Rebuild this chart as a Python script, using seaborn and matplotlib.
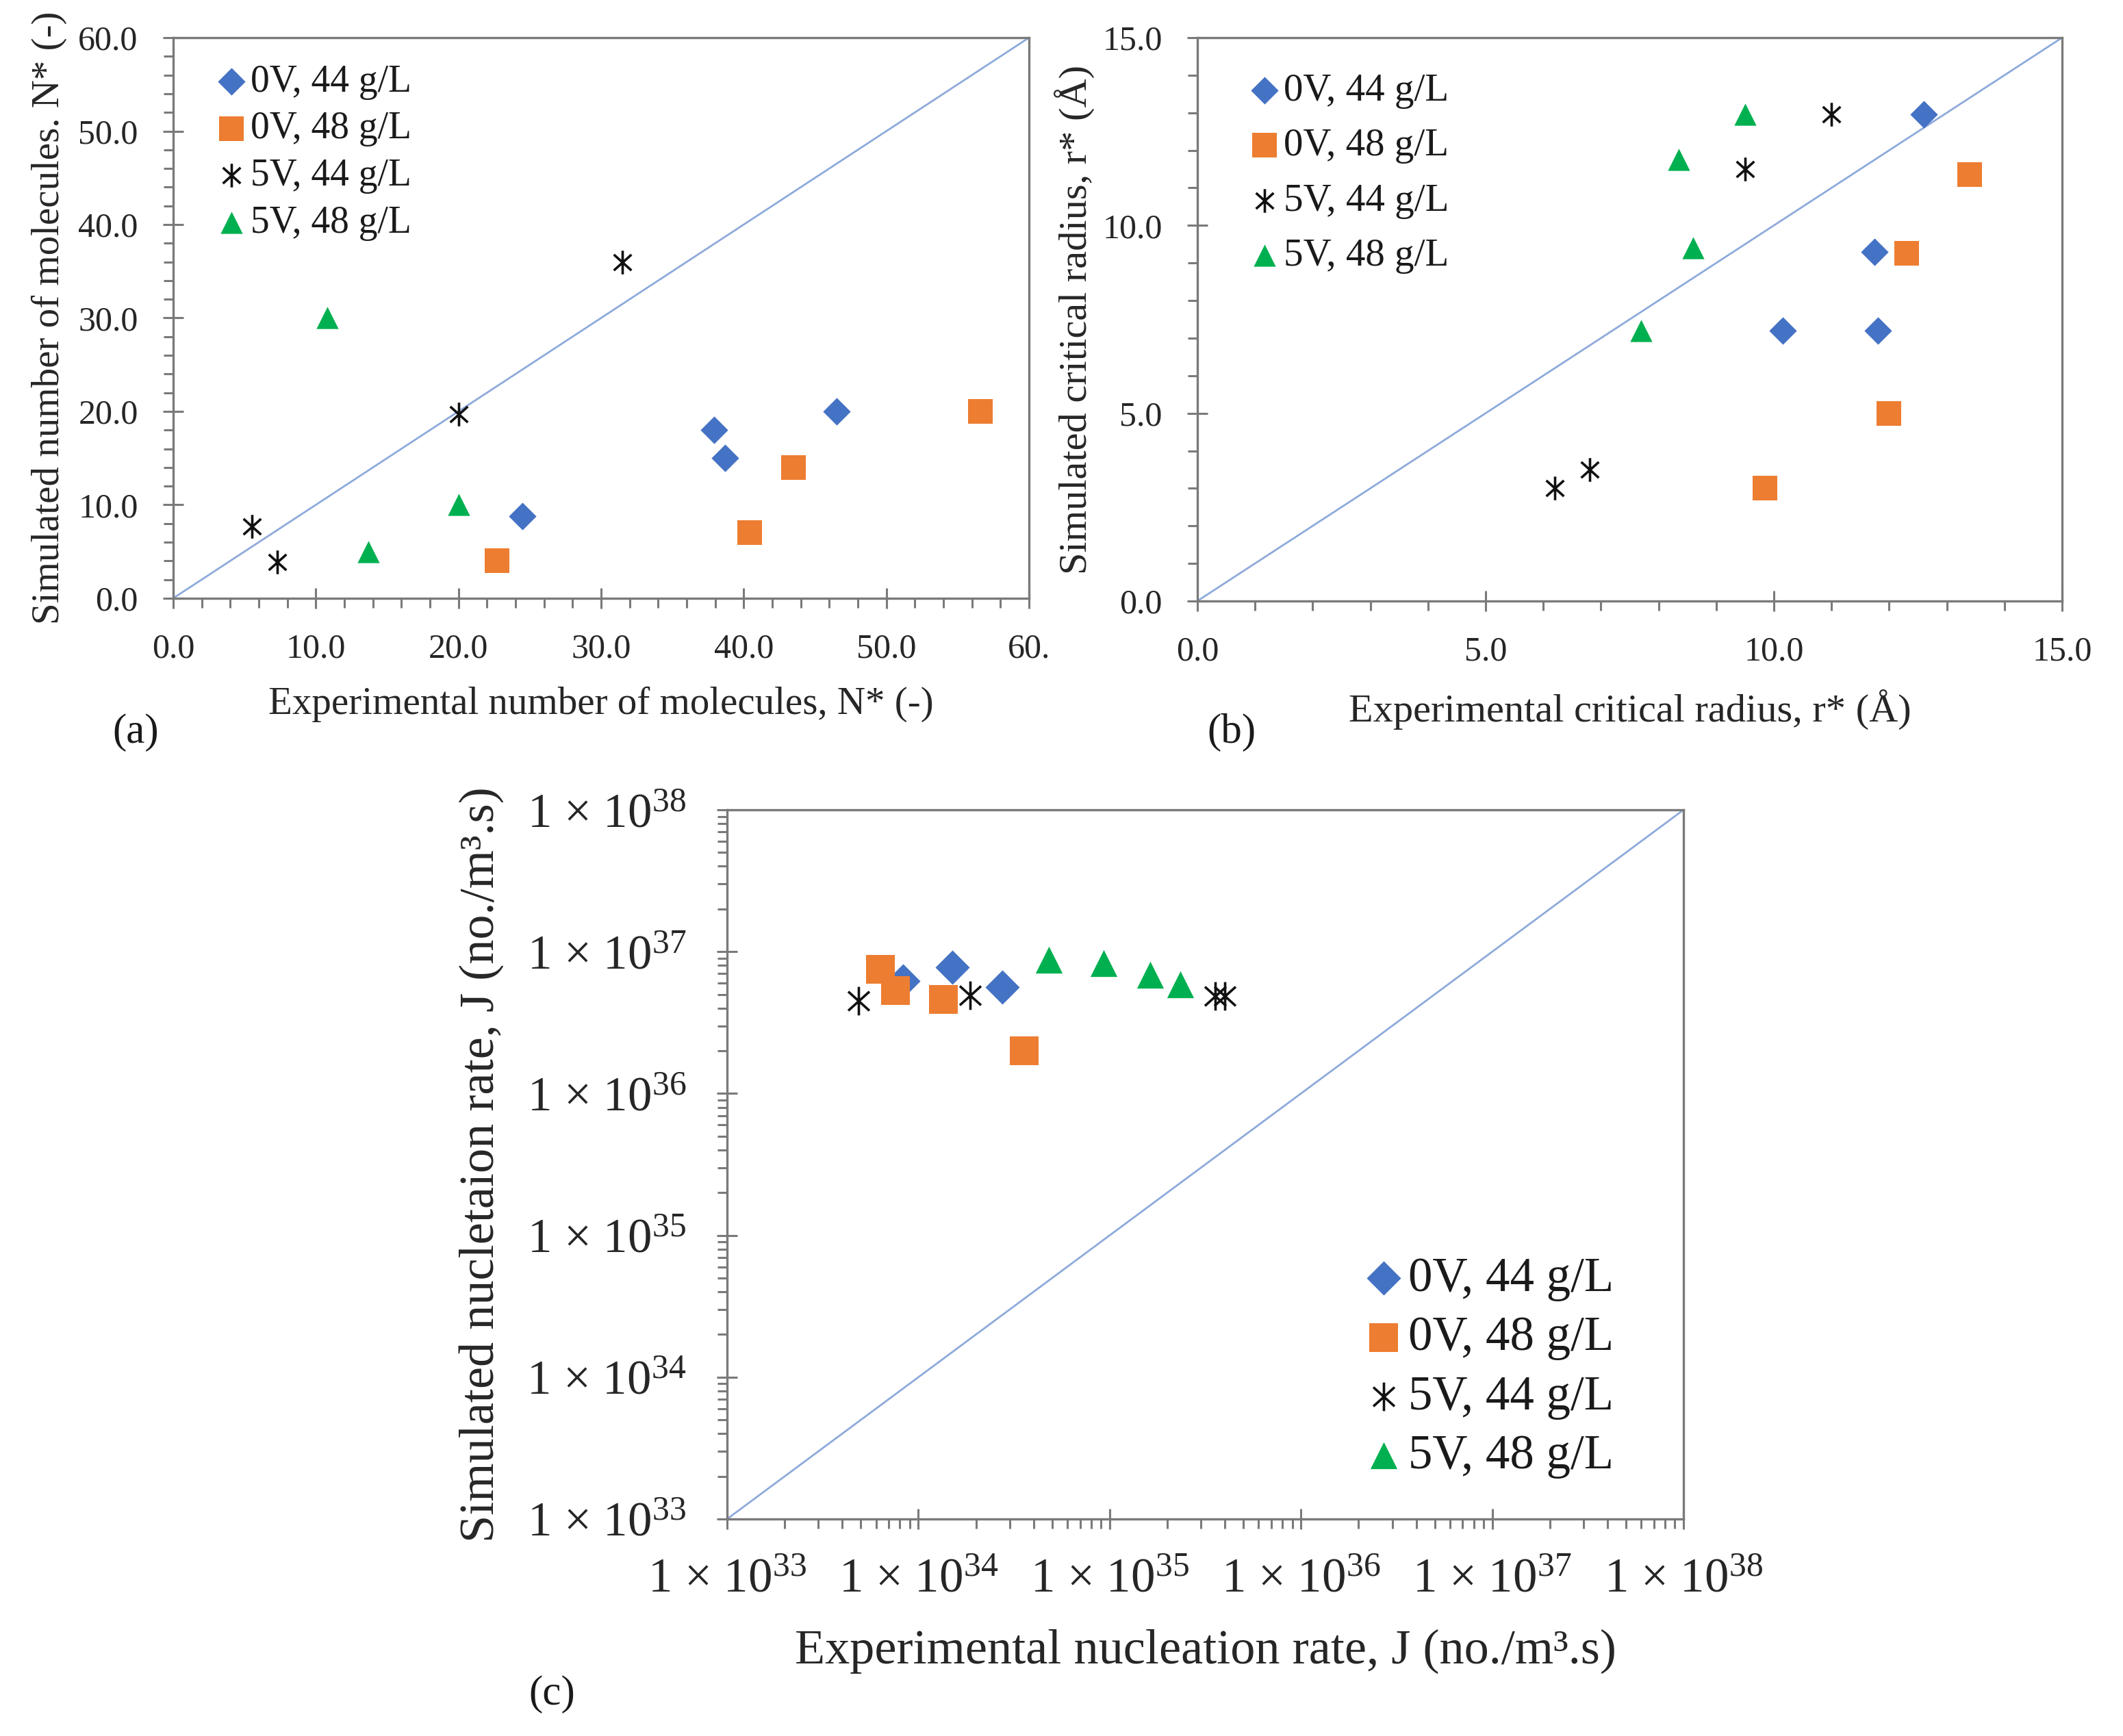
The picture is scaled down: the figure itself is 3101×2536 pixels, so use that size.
import numpy as np
import pandas as pd
import seaborn as sns
import matplotlib.pyplot as plt
from matplotlib.path import Path
from matplotlib.ticker import MultipleLocator, LogLocator, NullFormatter, FuncFormatter, FixedFormatter, FixedLocator

sns.set_style("white")
plt.rcParams['font.family'] = ['Liberation Serif', 'DejaVu Serif']
plt.rcParams['mathtext.fontset'] = 'custom'
plt.rcParams['mathtext.rm'] = 'Liberation Serif'
plt.rcParams['mathtext.default'] = 'regular'
plt.rcParams['text.color'] = '#1a1a1a'

series = ['0V, 44 g/L', '0V, 48 g/L', '5V, 44 g/L', '5V, 48 g/L']
colors = ['#4472C4', '#ED7D31', '#111111', '#00B050']

# Excel-style asterisk: a vertical bar plus an X
ang = np.deg2rad([90, 42, -42])
star_verts = []
for t in ang:
    star_verts += [(np.cos(t), np.sin(t)), (-np.cos(t), -np.sin(t))]
star = Path(star_verts, [Path.MOVETO, Path.LINETO] * 3)
markers = ['D', 's', star, '^']

# (a) critical number of molecules
a_x_0v44 = [24.5, 37.9, 38.7, 46.5]
a_y_0v44 = [8.8, 18.0, 15.0, 20.0]
a_x_0v48 = [22.7, 40.4, 43.5, 56.6]
a_y_0v48 = [4.0, 7.0, 14.0, 20.0]
a_x_5v44 = [5.5, 7.3, 20.0, 31.5]
a_y_5v44 = [7.7, 3.9, 19.7, 36.0]
a_x_5v48 = [10.8, 13.7, 20.0]
a_y_5v48 = [30.0, 5.0, 10.0]
a_xticklabels = ['0.0', '10.0', '20.0', '30.0', '40.0', '50.0', '60.']

# (b) critical radius (Angstrom)
b_x_0v44 = [12.6, 11.75, 10.15, 11.8]
b_y_0v44 = [12.95, 9.3, 7.2, 7.2]
b_x_0v48 = [13.4, 12.3, 12.0, 9.85]
b_y_0v48 = [11.35, 9.25, 5.0, 3.0]
b_x_5v44 = [11.0, 9.5, 6.2, 6.8]
b_y_5v44 = [12.95, 11.5, 3.0, 3.5]
b_x_5v48 = [9.5, 8.35, 8.6, 7.7]
b_y_5v48 = [12.95, 11.75, 9.4, 7.2]

# (c) nucleation rate (no./m3.s)
c_x_0v44 = [8.3e33, 1.5e34, 2.75e34]
c_y_0v44 = [6.2e36, 7.8e36, 5.65e36]
c_x_0v48 = [6.35e33, 7.6e33, 1.35e34, 3.56e34]
c_y_0v48 = [7.5e36, 5.3e36, 4.6e36, 2.0e36]
c_x_5v44 = [4.85e33, 1.86e34, 3.55e35, 4.0e35]
c_y_5v44 = [4.5e36, 4.9e36, 4.85e36, 4.85e36]
c_x_5v48 = [4.8e34, 9.3e34, 1.63e35, 2.34e35]
c_y_5v48 = [8.8e36, 8.3e36, 6.9e36, 5.9e36]

spine_col = '#7a7a7a'
line_col = '#8EAADB'

fig = plt.figure(figsize=(31.01, 25.36), dpi=100)
ax_a = fig.add_axes([0.0816, 0.6554, 0.4031, 0.3229])
ax_b = fig.add_axes([0.5640, 0.6538, 0.4073, 0.3245])
ax_c = fig.add_axes([0.3425, 0.1250, 0.4505, 0.4085])


def draw(ax, xs, ys, sizes):
    for lab, x, y, c, m, s in zip(series, xs, ys, colors, markers, sizes):
        df = pd.DataFrame({'x': x, 'y': y})
        if m is star:
            sns.scatterplot(data=df, x='x', y='y', ax=ax, marker=m, s=s,
                            color=c, edgecolor=c, linewidth=2.6, label=lab, zorder=3)
        else:
            sns.scatterplot(data=df, x='x', y='y', ax=ax, marker=m, s=s,
                            color=c, linewidth=0, label=lab, zorder=3)


def frame(ax):
    for sp in ax.spines.values():
        sp.set_color(spine_col)
        sp.set_linewidth(2.4)
    ax.tick_params(which='major', direction='inout', length=22, width=2.2, color=spine_col)
    ax.tick_params(which='minor', direction='out', length=10, width=2.2, color=spine_col)
    ax.tick_params(which='both', bottom=True, left=True, top=False, right=False)


# ---- (a)
draw(ax_a, [a_x_0v44, a_x_0v48, a_x_5v44, a_x_5v48],
     [a_y_0v44, a_y_0v48, a_y_5v44, a_y_5v48], [420, 650, 620, 540])
ax_a.plot([0, 60], [0, 60], color=line_col, lw=2.0, zorder=2)
ax_a.set_xlim(0, 60)
ax_a.set_ylim(0, 60)
ax_a.xaxis.set_major_locator(FixedLocator([0, 10, 20, 30, 40, 50, 60]))
ax_a.xaxis.set_major_formatter(FixedFormatter(a_xticklabels))
ax_a.xaxis.set_minor_locator(MultipleLocator(2))
ax_a.yaxis.set_major_locator(MultipleLocator(10))
ax_a.yaxis.set_minor_locator(MultipleLocator(2))
ax_a.yaxis.set_major_formatter(FuncFormatter(lambda v, p: f'{v:.1f}'))
frame(ax_a)
ax_a.tick_params(labelsize=36, pad=26)
ax_a.tick_params(axis='y', pad=26)
ax_a.set_xlabel('Experimental number of molecules, N* (-)', fontsize=41, labelpad=22)
ax_a.set_ylabel('Simulated number of molecules. N* (-)', fontsize=41, labelpad=12)
ax_a.legend(loc='upper left', bbox_to_anchor=(0.028, 0.98), frameon=False, fontsize=40,
            handletextpad=0.0, labelspacing=0.3, borderaxespad=0, handlelength=1.0)
fig.text(0.064, 0.578, '(a)', fontsize=44, ha='center', va='center')

# ---- (b)
draw(ax_b, [b_x_0v44, b_x_0v48, b_x_5v44, b_x_5v48],
     [b_y_0v44, b_y_0v48, b_y_5v44, b_y_5v48], [420, 650, 620, 540])
ax_b.plot([0, 15], [0, 15], color=line_col, lw=2.0, zorder=2)
ax_b.set_xlim(0, 15)
ax_b.set_ylim(0, 15)
for axis in (ax_b.xaxis, ax_b.yaxis):
    axis.set_major_locator(MultipleLocator(5))
    axis.set_minor_locator(MultipleLocator(1))
    axis.set_major_formatter(FuncFormatter(lambda v, p: f'{v:.1f}'))
frame(ax_b)
ax_b.tick_params(labelsize=36, pad=26)
ax_b.tick_params(axis='y', pad=26)
ax_b.set_xlabel('Experimental critical radius, r* (Å)', fontsize=42, labelpad=22)
ax_b.set_ylabel('Simulated critical radius, r* (Å)', fontsize=42, labelpad=8)
ax_b.legend(loc='upper left', bbox_to_anchor=(0.037, 0.965), frameon=False, fontsize=41,
            handletextpad=0.0, labelspacing=0.5, borderaxespad=0, handlelength=1.0)
fig.text(0.580, 0.578, '(b)', fontsize=44, ha='center', va='center')

# ---- (c)
ax_c.set_xscale('log')
ax_c.set_yscale('log')
draw(ax_c, [c_x_0v44, c_x_0v48, c_x_5v44, c_x_5v48],
     [c_y_0v44, c_y_0v48, c_y_5v44, c_y_5v48], [650, 950, 900, 800])
ax_c.plot([1e33, 1e38], [1e33, 1e38], color=line_col, lw=2.0, zorder=2)
ax_c.set_xlim(1e33, 1e38)
ax_c.set_ylim(1e33, 1e38)
sci = FuncFormatter(lambda v, p: f'1 × 10$^{{{int(round(np.log10(v)))}}}$')
for axis in (ax_c.xaxis, ax_c.yaxis):
    axis.set_major_locator(LogLocator(base=10, numticks=10))
    axis.set_minor_locator(LogLocator(base=10, subs=np.arange(2, 10), numticks=20))
    axis.set_major_formatter(sci)
    axis.set_minor_formatter(NullFormatter())
frame(ax_c)
ax_c.tick_params(labelsize=51, pad=30)
ax_c.tick_params(axis='y', pad=32)
ax_c.set_xlabel('Experimental nucleation rate, J (no./m³.s)', fontsize=52, labelpad=28)
ax_c.set_ylabel('Simulated nucletaion rate, J (no./m³.s)', fontsize=52, labelpad=24)
ax_c.legend(loc='upper left', bbox_to_anchor=(0.641, 0.397), frameon=False, fontsize=51,
            handletextpad=0.0, labelspacing=0.3, borderaxespad=0, handlelength=1.0)
fig.text(0.26, 0.024, '(c)', fontsize=44, ha='center', va='center')

fig.savefig('out.png', dpi=100, facecolor='white')
